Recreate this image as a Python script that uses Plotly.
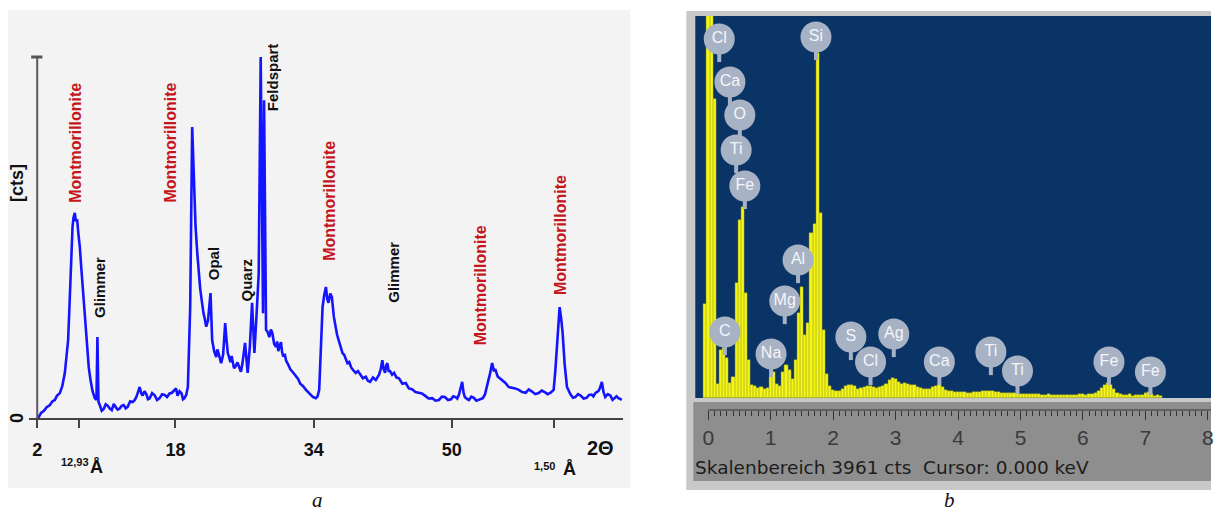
import plotly.graph_objects as go

W, H = 1214, 512

# ---------------- Panel a : XRD pattern ----------------
two_theta = [
    2.12, 2.45, 2.77, 3.10, 3.47, 3.75, 4.04, 4.30, 4.62, 4.90,
    5.20, 5.40, 5.58, 5.72, 5.86, 5.97, 6.09, 6.20, 6.35, 6.48,
    6.62, 6.77, 6.93, 7.12, 7.31, 7.55, 7.77, 7.97, 8.17, 8.40,
    8.66, 8.86, 8.97, 9.09, 9.24, 9.47, 9.70, 9.93, 10.16, 10.40,
    10.63, 10.86, 11.09, 11.32, 11.55, 11.78, 12.01, 12.24, 12.47, 12.76,
    13.05, 13.30, 13.51, 13.70, 13.86, 14.05, 14.21, 14.42, 14.63, 14.82,
    15.01, 15.30, 15.59, 15.88, 16.17, 16.46, 16.75, 17.03, 17.32, 17.60,
    17.90, 18.07, 18.25, 18.48, 18.71, 18.88, 19.05, 19.25, 19.44, 19.71,
    19.94, 20.09, 20.33, 20.52, 20.71, 20.86, 21.02, 21.14, 21.25, 21.40,
    21.56, 21.77, 21.92, 22.06, 22.25, 22.48, 22.72, 22.85, 22.98, 23.14,
    23.29, 23.52, 23.76, 23.90, 24.06, 24.22, 24.37, 24.50, 24.63, 24.78,
    24.94, 25.18, 25.41, 25.58, 25.75, 26.06, 26.36, 26.62, 26.87, 27.14,
    27.40, 27.64, 27.87, 28.03, 28.14, 28.26, 28.37, 28.49, 28.68, 28.87,
    29.05, 29.22, 29.43, 29.64, 29.78, 29.91, 30.06, 30.22, 30.35, 30.49,
    30.65, 30.80, 31.05, 31.30, 31.62, 31.95, 32.20, 32.45, 32.78, 33.11,
    33.35, 33.60, 33.93, 34.26, 34.45, 34.64, 34.84, 35.03, 35.22, 35.42,
    35.57, 35.72, 35.92, 36.11, 36.34, 36.57, 36.70, 36.84, 37.00, 37.15,
    37.34, 37.53, 37.72, 37.91, 38.12, 38.34, 38.60, 38.88, 39.13, 39.38,
    39.70, 40.04, 40.28, 40.53, 40.86, 41.19, 41.38, 41.57, 41.76, 41.95,
    42.10, 42.27, 42.40, 42.53, 42.68, 42.84, 43.08, 43.31, 43.60, 43.88,
    44.27, 44.66, 45.02, 45.38, 45.78, 46.19, 46.53, 46.88, 47.30, 47.73,
    48.10, 48.50, 48.85, 49.19, 49.55, 49.89, 50.16, 50.43, 50.62, 50.82,
    51.00, 51.19, 51.35, 51.50, 51.74, 51.97, 52.25, 52.54, 52.83, 53.12,
    53.35, 53.58, 53.83, 54.08, 54.23, 54.39, 54.52, 54.66, 54.85, 55.05,
    55.30, 55.55, 55.88, 56.20, 56.56, 56.93, 57.33, 57.74, 58.14, 58.55,
    58.90, 59.24, 59.65, 60.05, 60.40, 60.74, 61.08, 61.43, 61.78, 61.97,
    62.16, 62.32, 62.47, 62.65, 62.82, 63.05, 63.32, 63.74, 64.02, 64.29,
    64.60, 64.90, 65.25, 65.59, 65.88, 66.17, 66.38, 66.60, 66.98, 67.16,
    67.36, 67.55, 67.75, 68.05, 68.36, 68.60, 68.83, 69.06, 69.29, 69.67,
]
intensity = [
    0.0, 1.4, 2.0, 3.0, 3.6, 4.6, 5.0, 6.2, 6.9, 8.8,
    12.5, 16.5, 21.6, 30.0, 40.0, 47.0, 53.0, 55.5, 56.8, 54.5,
    55.0, 51.0, 47.4, 41.0, 34.6, 26.0, 19.7, 14.0, 10.5, 7.5,
    5.5, 5.0, 22.4, 4.5, 3.6, 2.0, 2.5, 3.8, 3.4, 2.6,
    2.2, 3.9, 3.0, 2.3, 2.6, 3.4, 3.6, 2.7, 3.1, 4.6,
    4.4, 5.0, 6.0, 7.2, 8.6, 6.8, 6.2, 7.4, 6.6, 5.2,
    5.4, 6.9, 6.3, 5.0, 5.5, 6.6, 6.4, 5.8, 6.8, 7.0,
    7.8, 8.2, 6.2, 7.4, 6.8, 5.2, 5.5, 6.4, 8.6, 30.7,
    80.6, 67.8, 53.0, 46.0, 40.0, 36.0, 33.0, 30.5, 29.0, 27.5,
    25.3, 27.0, 30.5, 34.6, 21.6, 18.5, 16.9, 19.0, 18.0, 16.0,
    15.2, 17.5, 26.3, 22.0, 18.0, 16.8, 15.5, 17.2, 16.0, 13.8,
    14.2, 15.4, 13.9, 12.8, 15.0, 20.8, 12.5, 20.0, 31.9, 18.0,
    29.0, 40.0, 100.0, 58.0, 29.0, 88.0, 49.0, 24.4, 23.8, 22.4,
    24.5, 23.5, 20.5, 19.7, 21.2, 18.5, 20.0, 21.0, 18.2, 17.0,
    17.8, 16.0, 14.8, 13.5, 12.6, 11.4, 10.8, 9.5, 8.8, 7.8,
    7.2, 6.4, 5.8, 5.5, 6.0, 7.8, 18.0, 30.7, 34.0, 36.3,
    33.0, 31.9, 34.5, 33.5, 28.0, 24.4, 23.2, 22.0, 20.5, 19.7,
    18.0, 17.5, 16.0, 15.2, 15.5, 14.0, 13.2, 12.5, 13.0, 12.0,
    11.0, 11.4, 10.3, 10.0, 11.2, 10.5, 11.5, 12.0, 13.5, 16.0,
    13.5, 12.5, 14.5, 15.2, 13.0, 13.0, 12.0, 12.5, 11.2, 11.0,
    9.5, 9.7, 8.2, 8.0, 7.2, 6.9, 6.8, 6.2, 5.4, 5.5,
    4.8, 5.0, 5.9, 5.8, 5.0, 5.2, 6.0, 5.8, 5.4, 6.5,
    8.0, 10.0, 7.0, 5.8, 5.3, 5.0, 5.9, 5.6, 4.8, 5.0,
    5.2, 5.5, 6.5, 8.6, 10.5, 12.0, 13.5, 15.2, 13.2, 13.3,
    11.5, 11.0, 10.2, 9.7, 8.6, 8.5, 8.2, 7.8, 7.2, 7.0,
    7.9, 7.4, 6.6, 6.9, 7.6, 7.2, 6.6, 7.0, 7.8, 13.0,
    19.7, 26.0, 30.7, 27.5, 23.5, 15.0, 8.6, 6.5, 5.6, 5.8,
    6.6, 6.2, 5.4, 5.6, 6.4, 6.5, 6.0, 6.9, 7.5, 8.4,
    10.0, 7.2, 5.8, 6.6, 6.2, 5.0, 5.4, 6.0, 5.5, 5.0,
]
assert len(two_theta) == len(intensity)

xrd_tick_vals = [2, 6.83, 18, 34, 50, 61.8]
xrd_tick_text = ["2", "", "18", "34", "50", ""]

phase_names = ["Montmorillonite", "Glimmer", "Montmorillonite", "Opal", "Quarz", "Feldspart",
               "Montmorillonite", "Glimmer", "Montmorillonite", "Montmorillonite"]
phase_2theta = [6.47, 9.18, 17.44, 22.40, 26.21, 29.22, 35.91, 43.30, 53.27, 62.64]
phase_label_y = [76.2, 36.1, 76.2, 42.7, 38.2, 94.5, 60.2, 40.5, 36.8, 50.7]

# ---------------- Panel b : EDS spectrum ----------------
eds_start_kev = -0.05
eds_step_kev = 0.05
eds_counts = [970, 4500, 4500, 3100, 150, 500, 520, 420, 155, 220,
              1190, 1845, 1980, 1090, 394, 140, 120, 100, 110, 95,
              105, 218, 270, 150, 120, 270, 342, 290, 200, 394,
              880, 1150, 650, 780, 1710, 1800, 3580, 1920, 705, 250,
              120,
              85, 70, 75, 90, 120, 135, 140, 120, 95, 100,
              110, 120, 125, 115, 105, 110, 120, 150, 185, 205,
              195, 165, 150, 155, 145, 140, 130, 115, 100, 95,
              90, 95, 110, 125, 130, 110, 85, 75, 70, 65,
              62, 60, 58, 55, 55, 58, 62, 65, 68, 70,
              72, 68, 62, 58, 52, 50, 48, 47, 50, 48,
              45, 44, 42, 45, 40, 38, 42, 36, 35, 38,
              33, 30, 35, 32, 30, 36, 34, 30, 32, 38,
              40, 36, 42, 45, 55, 70, 100, 135, 155, 140,
              90, 55, 40, 35, 30, 38, 25, 30, 28, 35,
              50, 60, 45, 25, 30, 20]
eds_kev = [round(eds_start_kev + i * eds_step_kev, 3) for i in range(len(eds_counts))]
eds_full_scale = 3961

element_names = ["Cl", "Ca", "O", "Ti", "Fe", "Si", "Al", "Mg", "C", "Na",
                 "S", "Cl", "Ag", "Ca", "Ti", "Ti", "Fe", "Fe"]
element_kev = [0.176, 0.347, 0.506, 0.447, 0.586, 1.725, 1.438, 1.225, 0.267, 1.006,
               2.284, 2.599, 2.971, 3.701, 4.526, 4.952, 6.417, 7.081]
element_tip = [3505, 3059, 2717, 2354, 1981, 3526, 1213, 788, 467, 239,
               415, 156, 446, 156, 259, 62, 156, 52]

kev_ticks = [0, 1, 2, 3, 4, 5, 6, 7, 8]
kev_minor_ticks = [i / 10 for i in range(1, 81) if i % 10 != 0]


def px_x(px):
    return px / W


def px_y(py):
    return 1 - py / H


# axis geometry (window pixels)
XRD_X0, XRD_X1 = 29.5, 625.0
XRD_Y0, XRD_Y1 = 418.0, 14.0
xrd_xrange = [1.1, 69.86]
xrd_yrange = [0, 111.91]

EDS_X0, EDS_X1 = 697.0, 1214.0
EDS_Y0, EDS_Y1 = 410.0, 16.0
eds_xrange = [-0.2077, 8.051]
eds_yrange = [-124.4, eds_full_scale]
cnt_per_px = (eds_yrange[1] - eds_yrange[0]) / (EDS_Y0 - EDS_Y1)

fig = go.Figure()

fig.add_trace(go.Scatter(x=two_theta, y=intensity, mode="lines",
                         line=dict(color="#1414ff", width=2.6),
                         xaxis="x", yaxis="y", showlegend=False, hoverinfo="skip"))

fig.add_trace(go.Bar(x=eds_kev, y=eds_counts, width=eds_step_kev,
                     marker=dict(color="#f6f614", line=dict(color="#a0a030", width=0.4)),
                     xaxis="x2", yaxis="y2", showlegend=False, hoverinfo="skip"))

balloon_color = "#a8b2c5"
fig.add_trace(go.Scatter(x=element_kev, y=[t + 3.5 * cnt_per_px for t in element_tip],
                         mode="markers",
                         marker=dict(symbol="line-ns", size=8,
                                     line=dict(color=balloon_color, width=4)),
                         xaxis="x2", yaxis="y2", showlegend=False, hoverinfo="skip",
                         cliponaxis=False))
fig.add_trace(go.Scatter(x=element_kev, y=[t + 21 * cnt_per_px for t in element_tip],
                         mode="markers+text", text=element_names,
                         textposition="middle center",
                         textfont=dict(family="Liberation Sans, Arial", size=16, color="#f4f6fa"),
                         marker=dict(symbol="circle", size=31, color=balloon_color,
                                     line=dict(width=0)),
                         xaxis="x2", yaxis="y2", showlegend=False, hoverinfo="skip",
                         cliponaxis=False))

shapes = [
    # panel a background
    dict(type="rect", xref="paper", yref="paper", x0=px_x(8), x1=px_x(632), y0=px_y(488), y1=px_y(10),
         fillcolor="#f3f3f3", line=dict(width=0), layer="below"),
    # panel b frame
    dict(type="rect", xref="paper", yref="paper", x0=px_x(688), x1=px_x(1214), y0=px_y(490), y1=px_y(11),
         fillcolor="#c8c8c8", line=dict(width=0), layer="below"),
    # blue spectrum area
    dict(type="rect", xref="paper", yref="paper", x0=px_x(697), x1=px_x(1214), y0=px_y(398), y1=px_y(16),
         fillcolor="#0a3465", line=dict(width=0), layer="below"),
    # ruler band
    dict(type="rect", xref="paper", yref="paper", x0=px_x(695), x1=px_x(1214), y0=px_y(481), y1=px_y(402),
         fillcolor="#8e8e8e", line=dict(width=0), layer="below"),
    # ruler line (starts at 0 keV)
    dict(type="line", xref="x2", yref="paper", x0=0, x1=eds_xrange[1], y0=px_y(EDS_Y0), y1=px_y(EDS_Y0),
         line=dict(color="#333333", width=1)),
    # XRD y axis line and cap
    dict(type="line", xref="x", yref="y", x0=2, x1=2, y0=0, y1=100,
         line=dict(color="#5a5a5a", width=2)),
    dict(type="line", xref="x", yref="y", x0=1.3, x1=2.6, y0=100, y1=100,
         line=dict(color="#555555", width=3)),
]

annotations = []
for name, xv, yv in zip(phase_names, phase_2theta, phase_label_y):
    red = name.startswith("Montmor")
    annotations.append(dict(
        x=xv, y=yv, xref="x", yref="y", text=name, showarrow=False, textangle=-90,
        xanchor="center", yanchor="middle",
        font=dict(family="Liberation Sans, Arial", size=16 if red else 15,
                  color="#c4161c" if red else "#111111", weight="bold")))


def ann(text, x, y, size, color="#111111", bold=True, xanchor="center", angle=0,
        family="Liberation Sans, Arial"):
    annotations.append(dict(x=px_x(x), y=px_y(y), xref="paper", yref="paper", text=text,
                            showarrow=False, xanchor=xanchor, yanchor="middle", textangle=angle,
                            font=dict(family=family, size=size, color=color,
                                      weight="bold" if bold else "normal")))


ann("[cts]", 17, 183, 18, angle=-90)
ann("0", 17, 418, 18, angle=-90)
ann("2Θ", 602, 448, 20)
ann("12,93", 75, 462, 11)
ann("Å", 97, 467, 18)
ann("1,50", 546, 466, 11)
ann("Å", 571, 469, 18)
ann("Skalenbereich 3961 cts\u00a0\u00a0Cursor: 0.000 keV", 695, 467, 18.5, color="#1c1c1c",
    bold=False, xanchor="left", family="DejaVu Sans")
ann("<i>a</i>", 318, 500, 21, bold=False, family="Liberation Serif, Times New Roman")
ann("<i>b</i>", 952, 500, 21, bold=False, family="Liberation Serif, Times New Roman")

fig.update_layout(
    width=W, height=H, margin=dict(l=0, r=0, t=0, b=0),
    paper_bgcolor="white", plot_bgcolor="rgba(0,0,0,0)",
    showlegend=False, bargap=0, hovermode=False,
    xaxis=dict(domain=[px_x(XRD_X0), px_x(XRD_X1)], range=xrd_xrange, anchor="y",
               showline=True, linecolor="#444444", linewidth=2,
               ticks="outside", ticklen=8, tickwidth=1.5, tickcolor="#444444",
               tickvals=xrd_tick_vals, ticktext=xrd_tick_text, ticklabelstandoff=6,
               tickfont=dict(family="Liberation Sans, Arial", size=18, color="#111111", weight="bold"),
               showgrid=False, zeroline=False, fixedrange=True),
    yaxis=dict(domain=[px_y(XRD_Y0), px_y(XRD_Y1)], range=xrd_yrange, anchor="x",
               visible=False, fixedrange=True),
    xaxis2=dict(domain=[px_x(EDS_X0), px_x(EDS_X1)], range=eds_xrange, anchor="y2",
                showline=False,
                ticks="outside", ticklen=9, tickwidth=1, tickcolor="#333333",
                tickvals=kev_ticks, ticklabeloverflow="allow",
                minor=dict(tickmode="array", tickvals=kev_minor_ticks, ticklen=5,
                           tickcolor="#333333", ticks="outside"),
                tickfont=dict(family="Liberation Sans, Arial", size=21, color="#3a3a3a"),
                showgrid=False, zeroline=False, fixedrange=True),
    yaxis2=dict(domain=[px_y(EDS_Y0), px_y(EDS_Y1)], range=eds_yrange, anchor="x2",
                visible=False, fixedrange=True),
    shapes=shapes, annotations=annotations,
)

fig.write_html("out.html", config={"displayModeBar": False},
               post_script="document.body.style.margin='0';document.body.style.overflow='hidden';")
